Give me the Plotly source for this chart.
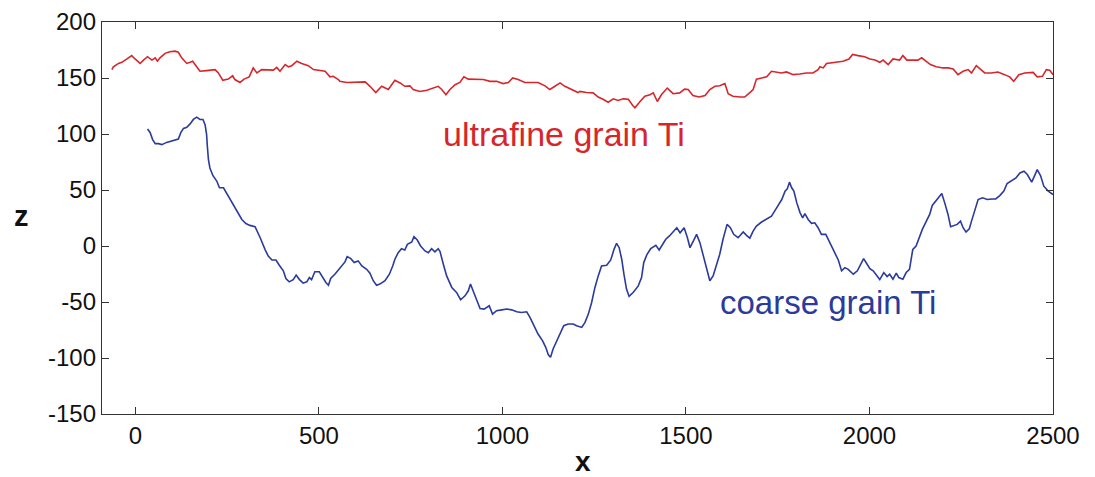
import plotly.graph_objects as go

# ultrafine grain Ti (red)
ufg_x = [-64, -60, -46, -37, -23, -10, -1, 13, 22, 33, 45, 54, 60, 67, 81, 94, 108, 117, 126, 140,
         149, 156, 167, 176, 194, 217, 226, 238, 253, 265, 271, 285, 296, 310, 321, 331, 344, 358, 376, 385,
         394, 408, 417, 426, 440, 453, 471, 485, 503, 517, 530, 539, 553, 557, 576, 598, 626, 639, 655, 671,
         689, 707, 721, 734, 748, 757, 775, 794, 812, 825, 834, 846, 857, 871, 884, 895, 907, 930, 948, 966,
         984, 1002, 1016, 1028, 1043, 1061, 1080, 1097, 1116, 1129, 1143, 1157, 1170, 1188, 1206, 1211, 1229, 1247, 1261, 1274,
         1288, 1302, 1315, 1329, 1343, 1355, 1361, 1375, 1388, 1402, 1411, 1422, 1433, 1449, 1465, 1483, 1496, 1506, 1519, 1536,
         1552, 1565, 1579, 1592, 1606, 1615, 1628, 1647, 1660, 1674, 1683, 1692, 1706, 1720, 1733, 1747, 1760, 1774, 1792, 1810,
         1828, 1846, 1860, 1865, 1874, 1883, 1905, 1928, 1944, 1954, 1969, 1987, 2001, 2015, 2028, 2037, 2051, 2064, 2082, 2091,
         2102, 2119, 2132, 2142, 2155, 2166, 2182, 2200, 2214, 2228, 2241, 2255, 2269, 2278, 2291, 2305, 2314, 2332, 2350, 2368,
         2382, 2393, 2407, 2423, 2446, 2457, 2471, 2482, 2491, 2500]
ufg_z = [157.5, 160, 163, 164, 167, 170, 167, 163, 166, 169, 166, 168, 165, 168, 172, 173.5, 174, 173, 168, 163,
         164, 165, 160, 156, 156.6, 157.5, 154.5, 148, 149, 152, 148.6, 146, 149, 151, 159, 154.5, 157.5, 157.5, 157, 159.5,
         156, 162, 160, 161, 165, 163, 161, 157.5, 157, 156, 151, 151.5, 148.6, 147, 146, 146, 146.5, 142.6, 137, 142.6,
         139.7, 148, 145.6, 142.6, 143, 139.7, 138, 139, 141, 142.6, 140, 135, 139.7, 144, 146, 151, 149, 149, 148.6, 147,
         147, 145, 146, 150, 148.6, 146, 146, 146, 143, 139.7, 142.6, 145.6, 142.6, 140, 137, 138, 137, 136.7, 133, 131,
         128.4, 131.4, 130, 131.4, 131, 125.4, 123.4, 129, 133.7, 135, 136.7, 129, 135, 141, 136, 136.7, 140, 139.7, 134.3, 133,
         134.3, 139.7, 142.6, 143, 145, 136, 133.7, 133, 133, 137, 139.7, 149, 150, 151, 156, 155, 154.5, 155.4, 153, 153.6,
         154.5, 154.5, 157.5, 160, 159, 163, 164, 165, 167, 171, 170, 169, 167, 166, 164, 166, 162, 167, 166, 170,
         166, 166, 166, 168, 165, 162, 160, 159, 159, 158, 153, 156, 157.5, 154.5, 161, 157, 154.5, 154.5, 155.4, 153,
         151, 147, 153, 154.5, 155, 151, 151.5, 157.5, 157, 153]

# coarse grain Ti (blue)
cg_x = [33, 40, 47, 54, 63, 72, 85, 103, 117, 124, 131, 140, 149, 158, 167, 176, 184, 190, 194, 196,
        199, 203, 211, 222, 229, 240, 249, 262, 276, 290, 301, 312, 326, 331, 340, 353, 362, 372, 383, 392,
        403, 410, 419, 430, 438, 447, 457, 467, 474, 480, 489, 501, 510, 519, 526, 532, 544, 557, 571, 577,
        587, 596, 607, 617, 630, 639, 648, 657, 666, 680, 692, 701, 707, 716, 725, 734, 741, 753, 759, 768,
        777, 789, 798, 807, 816, 825, 830, 839, 848, 862, 875, 886, 898, 907, 913, 920, 930, 939, 950, 964,
        973, 984, 998, 1012, 1025, 1039, 1052, 1066, 1075, 1086, 1097, 1109, 1118, 1125, 1131, 1138, 1148, 1157, 1167, 1179,
        1193, 1202, 1216, 1225, 1234, 1243, 1252, 1261, 1270, 1284, 1295, 1304, 1311, 1318, 1325, 1331, 1338, 1345, 1356, 1370,
        1379, 1385, 1394, 1404, 1418, 1427, 1434, 1445, 1455, 1466, 1475, 1484, 1495, 1504, 1511, 1520, 1529, 1538, 1547, 1556,
        1565, 1574, 1583, 1592, 1601, 1612, 1621, 1630, 1642, 1656, 1665, 1674, 1683, 1692, 1706, 1720, 1733, 1747, 1761, 1770,
        1776, 1782, 1788, 1794, 1802, 1811, 1818, 1824, 1833, 1842, 1851, 1860, 1869, 1881, 1892, 1906, 1915, 1924, 1933, 1942,
        1956, 1967, 1974, 1984, 1992, 2001, 2010, 2019, 2028, 2039, 2048, 2055, 2064, 2073, 2080, 2091, 2100, 2109, 2114, 2118,
        2127, 2135, 2144, 2155, 2164, 2171, 2180, 2190, 2197, 2205, 2214, 2221, 2230, 2239, 2248, 2255, 2263, 2272, 2278, 2287,
        2296, 2308, 2321, 2333, 2344, 2355, 2366, 2375, 2387, 2399, 2410, 2421, 2430, 2442, 2450, 2457, 2466, 2475, 2487, 2496,
        2500]
cg_z = [104.4, 101.4, 95, 91.4, 91.4, 90.5, 92.5, 94.3, 95.5, 101.4, 105, 106, 109, 113, 115, 113, 113, 108, 99.4, 89,
        77, 69.7, 63, 57.8, 52, 52, 47, 38.5, 31, 23.7, 20, 18.4, 17.2, 14.2, 7.4, -3, -9, -12.5, -12.5, -17.2,
        -22.2, -29, -32, -30, -26, -30, -33.2, -32, -28.2, -30, -23, -23, -28.2, -32.6, -35, -29, -25, -20, -14.2, -9.5,
        -11.3, -14.8, -13.3, -17.8, -20.8, -24.3, -31, -35, -34, -31, -25.2, -17.8, -11.8, -6, -2.4, -3.6, 1.5, 3.6, 8.3, 5.3,
        0, -4.4, -6, -2.4, -5.3, -2.4, -5, -16.3, -26.7, -37, -41.5, -48, -44.5, -40, -34, -40, -49, -55.8, -56.3, -53.4,
        -60.8, -57.8, -57, -56.3, -57, -58.7, -59.3, -58.7, -63.8, -71.2, -78.6, -84.5, -90.5, -97.2, -99.4, -92, -84.5, -78.6, -71.2, -69.7,
        -69.7, -71.2, -72.7, -68.2, -60.8, -50.4, -37, -26.7, -17.8, -17.2, -12.5, -3, 2.4, -1.5, -11.8, -25.2, -38.5, -45, -41.5, -35.6,
        -28.2, -14.8, -7.4, -2.4, 0.6, -3.6, 0, 6, 9, 13.3, 16.3, 11.8, 16.3, 7.4, -1.5, 4.4, 10.4, 3, -9, -20.8,
        -31, -26.7, -17.8, -7.4, 6, 19.3, 16.3, 10.4, 7.4, 12.5, 9.5, 7, 13.3, 17.8, 21.4, 24.3, 26.7, 34, 41.5, 49,
        51, 57, 52, 49, 38.5, 29.6, 25.2, 29, 23.7, 20.2, 20.7, 16.3, 10.4, 10.4, 3, -6, -12.5, -22.2, -19.3, -20.8,
        -25.2, -22.2, -17.2, -11.3, -15.4, -20.2, -22.2, -26.7, -30, -23.7, -27.3, -25.2, -29.6, -24.3, -28.2, -29.6, -23.7, -20.8, -10.4, -3,
        0, 7.4, 14.8, 22.2, 28.2, 36.2, 40, 43.9, 46.9, 38.5, 28.2, 17.2, 18.4, 19.3, 22.2, 16.3, 12.5, 15.4, 22.2, 32.6,
        41.5, 43, 41.5, 42, 42, 45, 49, 55.8, 58.7, 60.8, 65.2, 66.7, 63.8, 57, 62.9, 68.2, 62.9, 53.4, 49, 46.9,
        46]

x_ticks = [0, 500, 1000, 1500, 2000, 2500]
y_ticks = [-150, -100, -50, 0, 50, 100, 150, 200]

RED = "#d7262b"
BLUE = "#2a3b9c"
FONT = "Liberation Sans, Arial, sans-serif"

W, H = 1095, 477
ML, MR, MT, MB = 94, 50, 14, 71
PW, PH = W - ML - MR, H - MT - MB

fig = go.Figure()
fig.add_trace(go.Scatter(x=ufg_x, y=ufg_z, mode="lines", line=dict(color=RED, width=1.6), showlegend=False))
fig.add_trace(go.Scatter(x=cg_x, y=cg_z, mode="lines", line=dict(color=BLUE, width=1.6), showlegend=False))

fig.add_annotation(x=1167, y=100, text="ultrafine grain Ti", showarrow=False,
                   font=dict(family=FONT, size=34, color=RED), xanchor="center", yanchor="middle")
fig.add_annotation(x=1888, y=-50, text="coarse grain Ti", showarrow=False,
                   font=dict(family=FONT, size=33, color=BLUE), xanchor="center", yanchor="middle")
# upright "z" axis label (pixel position converted to paper coordinates)
fig.add_annotation(xref="paper", yref="paper", x=(13 - ML) / PW, y=(H - MB - 208) / PH,
                   xanchor="center", yanchor="middle",
                   text="<b>z</b>", showarrow=False, font=dict(family=FONT, size=29, color="#111111"))
# "x" axis label
fig.add_annotation(xref="paper", yref="paper", x=(575 - ML) / PW, y=(H - MB - 454) / PH,
                   xanchor="center", yanchor="middle",
                   text="<b>x</b>", showarrow=False, font=dict(family=FONT, size=28, color="#111111"))

axis_common = dict(showline=True, linecolor="#333333", linewidth=1.3, mirror="ticks", ticks="inside",
                   ticklen=7, tickcolor="#333333", tickwidth=1, showgrid=False, zeroline=False,
                   automargin=False, ticklabeloverflow="allow",
                   tickfont=dict(family=FONT, size=24, color="#111111"))

fig.update_layout(
    width=W, height=H,
    margin=dict(l=ML, r=MR, t=MT, b=MB),
    paper_bgcolor="white", plot_bgcolor="white",
    xaxis=dict(range=[-91, 2500], tickvals=x_ticks, ticktext=[str(v) for v in x_ticks], **axis_common),
    yaxis=dict(range=[-150, 200], tickvals=y_ticks, ticktext=[str(v) for v in y_ticks], **axis_common),
)

fig.write_html("out.html")
